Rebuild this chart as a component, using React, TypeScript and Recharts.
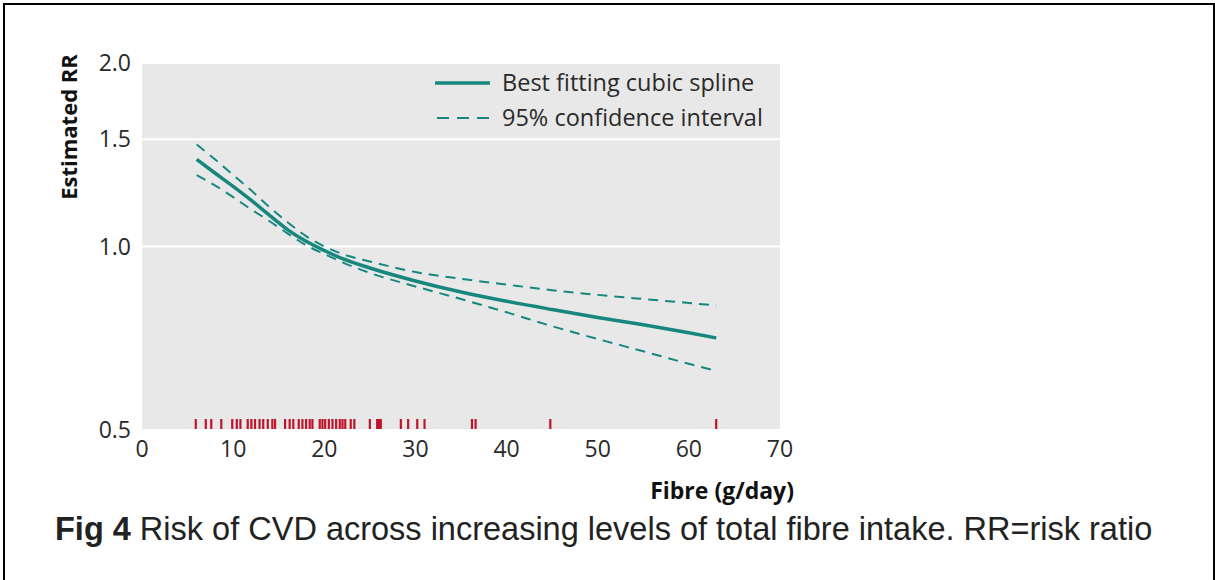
import { CartesianGrid, ComposedChart, Line, Scatter, XAxis, YAxis } from 'recharts';

// ── Data ───────────────────────────────────────────────────────────────────────

const fibre   = [6, 8, 10, 12, 14, 16, 18, 20, 22, 25, 30, 35, 40, 45, 50, 55, 60, 63];
const fitRR   = [1.39, 1.32, 1.255, 1.19, 1.125, 1.065, 1.02, 0.985, 0.955, 0.922, 0.878, 0.842, 0.813, 0.788, 0.765, 0.744, 0.722, 0.708];
const upperRR = [1.47, 1.39, 1.31, 1.235, 1.16, 1.095, 1.04, 1.0, 0.972, 0.945, 0.908, 0.885, 0.866, 0.848, 0.833, 0.82, 0.808, 0.80];
const lowerRR = [1.31, 1.26, 1.205, 1.15, 1.10, 1.05, 1.005, 0.972, 0.942, 0.905, 0.86, 0.82, 0.78, 0.74, 0.705, 0.673, 0.642, 0.625];

// study intakes shown as a rug along the bottom
const rugIntakes = [
  5.9, 7.0, 7.6, 8.7, 9.9, 10.4, 10.8, 11.6, 12.0, 12.4, 12.9, 13.3, 13.8, 14.3, 14.6,
  15.7, 16.2, 16.6, 17.2, 17.6, 18.0, 18.4, 18.7, 19.5, 19.8, 20.1, 20.5, 20.9, 21.3,
  21.7, 22.0, 22.3, 22.9, 23.3, 25.0, 25.8, 26.0, 26.2, 28.4, 29.2, 30.2, 31.0,
  36.2, 36.6, 44.8, 63.0,
];

const xTicks = [0, 10, 20, 30, 40, 50, 60, 70];
const yTicks = [0.5, 1.0, 1.5, 2.0];

const curveData = fibre.map((x, i) => ({ x, fit: fitRR[i], upper: upperRR[i], lower: lowerRR[i] }));
const rugData   = rugIntakes.map(x => ({ x, y: 0.5 }));

// ── Styling ────────────────────────────────────────────────────────────────────

const TEAL  = '#17877d';
const RUG   = '#c0142a';
const FONT  = '"Open Sans", Lato, sans-serif';
const INK   = '#2a2a2a';

function XTick({ x, y, payload }: any) {
  return (
    <g>
      <line x1={x} x2={x} y1={y - 6} y2={y} stroke="#ffffff" strokeWidth={1.5} />
      <text x={x} y={y + 19} textAnchor="middle" fontSize={23} fontFamily={FONT} fill={INK}>
        {payload.value}
      </text>
    </g>
  );
}

function YTick({ x, y, payload }: any) {
  return (
    <text x={x - 3} y={y + 8} textAnchor="end" fontSize={23} fontFamily={FONT} fill={INK}>
      {Number(payload.value).toFixed(1)}
    </text>
  );
}

function RugMark({ cx, cy }: any) {
  return <line x1={cx} x2={cx} y1={cy - 11} y2={cy - 1} stroke={RUG} strokeWidth={2.2} />;
}

function ChartLegend() {
  const row = { display: 'flex', alignItems: 'center', height: 35 } as const;
  return (
    <div style={{ fontFamily: FONT, fontSize: 23.5, color: INK, lineHeight: 1 }}>
      <div style={row}>
        <svg width={67} height={10}><line x1={0} x2={55} y1={5} y2={5} stroke={TEAL} strokeWidth={3.5} /></svg>
        <span>Best fitting cubic spline</span>
      </div>
      <div style={row}>
        <svg width={67} height={10}><line x1={2} x2={55} y1={5} y2={5} stroke={TEAL} strokeWidth={2} strokeDasharray="12 8" /></svg>
        <span>95% confidence interval</span>
      </div>
    </div>
  );
}

export default function App() {
  return (
    <div style={{ position: 'absolute', left: 0, top: 0, width: 1215, height: 580, background: '#fff', overflow: 'hidden' }}>
      {/* frame */}
      <div style={{ position: 'absolute', left: 3, top: 3, width: 1212, height: 600, border: '2px solid #000', boxSizing: 'border-box' }} />

      <div style={{ position: 'absolute', left: 0, top: 0 }}>
        <ComposedChart width={800} height={470} data={curveData} margin={{ top: 63, right: 20, bottom: 10, left: 82 }}>
          <CartesianGrid fill="#e8e8e8" stroke="#ffffff" strokeWidth={2} vertical={false} />
          <XAxis
            dataKey="x" type="number" domain={[0, 70]} ticks={xTicks}
            axisLine={false} tickLine={false} tick={<XTick />} height={30} interval={0}
          />
          <YAxis
            type="number" scale="log" domain={[0.5, 2]} ticks={yTicks} allowDataOverflow
            axisLine={false} tickLine={false} tick={<YTick />} width={60} interval={0}
          />
          <Scatter data={rugData} dataKey="y" shape={<RugMark />} isAnimationActive={false} />
          <Line type="monotone" dataKey="upper" stroke={TEAL} strokeWidth={2} strokeDasharray="10 7" dot={false} isAnimationActive={false} />
          <Line type="monotone" dataKey="lower" stroke={TEAL} strokeWidth={2} strokeDasharray="10 7" dot={false} isAnimationActive={false} />
          <Line type="monotone" dataKey="fit" stroke={TEAL} strokeWidth={3.5} dot={false} isAnimationActive={false} />
        </ComposedChart>
      </div>

      {/* legend */}
      <div style={{ position: 'absolute', left: 435, top: 65 }}>
        <ChartLegend />
      </div>

      {/* y axis title */}
      <div style={{
        position: 'absolute', left: 68, top: 127, transform: 'translate(-50%, -50%) rotate(-90deg)',
        fontFamily: FONT, fontWeight: 700, fontSize: 22, color: '#111', whiteSpace: 'nowrap',
      }}>
        Estimated RR
      </div>

      {/* x axis title */}
      <div style={{
        position: 'absolute', right: 1215 - 794, top: 474,
        fontFamily: FONT, fontWeight: 700, fontSize: 23, color: '#111', whiteSpace: 'nowrap',
      }}>
        Fibre (g/day)
      </div>

      {/* caption */}
      <div style={{
        position: 'absolute', left: 55, top: 511,
        fontFamily: '"Liberation Sans", Arial, sans-serif', fontSize: 32.5, color: '#222', whiteSpace: 'nowrap',
      }}>
        <b>Fig 4</b> Risk of CVD across increasing levels of total fibre intake. RR=risk ratio
      </div>
    </div>
  );
}
